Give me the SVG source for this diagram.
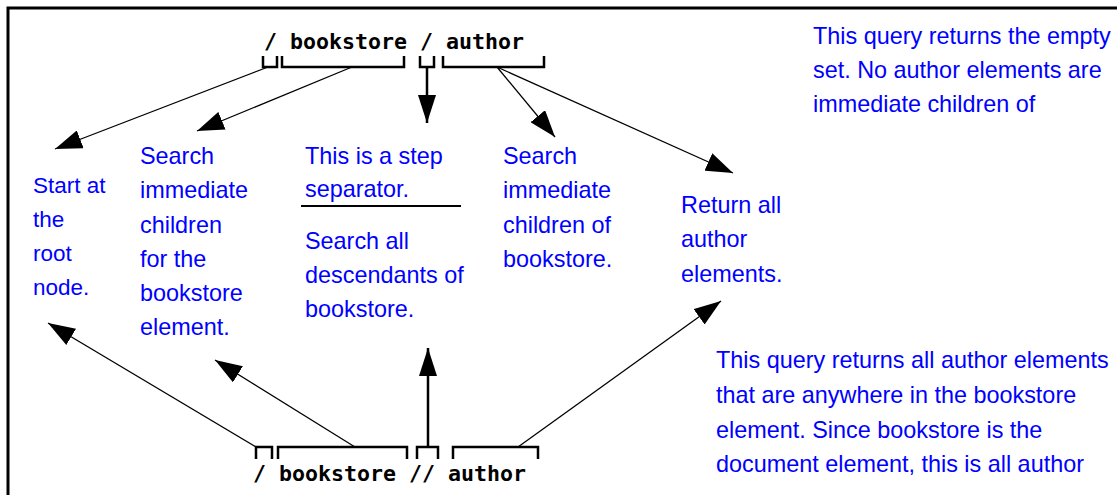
<svg xmlns="http://www.w3.org/2000/svg" width="1117" height="495" viewBox="0 0 1117 495">
<style>
.code{font-family:"DejaVu Sans Mono","Liberation Mono",monospace;font-weight:bold;font-size:21.6px;fill:#000}
.lbl{font-family:"Liberation Sans",Arial,sans-serif;font-size:23.4px;fill:#0000ff}
.sm{font-size:22.5px}
.br{fill:none;stroke:#000;stroke-width:2.5}
.thin{fill:none;stroke:#000;stroke-width:1.3}
.thick{fill:none;stroke:#000;stroke-width:2.5}
</style>
<defs>
<marker id="ah" markerUnits="userSpaceOnUse" markerWidth="27" markerHeight="19" viewBox="0 0 27 19" refX="27" refY="9.5" orient="auto">
<path d="M0,0 L27,9.5 L0,19 z" fill="#000"/>
</marker>
<marker id="ahv" markerUnits="userSpaceOnUse" markerWidth="28" markerHeight="18" viewBox="0 0 28 18" refX="28" refY="9" orient="auto">
<path d="M0,0 L28,9 L0,18 z" fill="#000"/>
</marker>
</defs>
<rect width="1117" height="495" fill="#fff"/>
<path d="M8,495 L8,8 L1117,8" fill="none" stroke="#000" stroke-width="3"/>

<g id="query-top">
<text class="code" x="264" y="49" xml:space="preserve">/ bookstore / author</text>
<path class="br" d="M263,56 V67 H277 V56 M282,56 V67 H404 V56 M420,56 V67 H434 V56 M443,56 V67 H544 V56"/>
</g>
<g id="query-bottom">
<text class="code" x="253" y="481" xml:space="preserve">/ bookstore // author</text>
<path class="br" d="M256,459 V447 H272 V459 M278,459 V447 H407 V459 M417,459 V447 H438 V459 M453,459 V447 H538 V459"/>
</g>

<g id="connectors">
<line class="thin" x1="268" y1="67" x2="55" y2="149" marker-end="url(#ah)"/>
<line class="thin" x1="352" y1="67" x2="197" y2="131" marker-end="url(#ah)"/>
<line class="thick" x1="427" y1="67" x2="427" y2="123" marker-end="url(#ahv)"/>
<line class="thin" x1="497" y1="67" x2="555" y2="137" marker-end="url(#ah)"/>
<line class="thin" x1="497" y1="67" x2="733" y2="173" marker-end="url(#ah)"/>
<line class="thin" x1="256" y1="447" x2="48" y2="323" marker-end="url(#ah)"/>
<line class="thin" x1="355" y1="447" x2="215" y2="360" marker-end="url(#ah)"/>
<line class="thick" x1="428" y1="447" x2="428" y2="348" marker-end="url(#ahv)"/>
<line class="thin" x1="518" y1="447" x2="721" y2="301" marker-end="url(#ah)"/>
</g>

<g id="root-node">
<text class="lbl sm" x="33" y="193">Start at</text>
<text class="lbl sm" x="33" y="227">the</text>
<text class="lbl sm" x="33" y="261">root</text>
<text class="lbl sm" x="33" y="295">node.</text>
</g>
<g id="search-children">
<text class="lbl" x="140" y="164">Search</text>
<text class="lbl" x="140" y="198">immediate</text>
<text class="lbl" x="140" y="233">children</text>
<text class="lbl" x="140" y="267">for the</text>
<text class="lbl" x="140" y="301">bookstore</text>
<text class="lbl" x="140" y="335">element.</text>
</g>
<g id="step-separator">
<text class="lbl" x="305" y="164">This is a step</text>
<text class="lbl" x="305" y="197">separator.</text>
<line x1="301" y1="206" x2="461" y2="206" stroke="#000" stroke-width="2"/>
<text class="lbl" x="305" y="249">Search all</text>
<text class="lbl" x="305" y="283">descendants of</text>
<text class="lbl" x="305" y="317">bookstore.</text>
</g>
<g id="search-children-bookstore">
<text class="lbl" x="503" y="164">Search</text>
<text class="lbl" x="503" y="198">immediate</text>
<text class="lbl" x="503" y="233">children of</text>
<text class="lbl" x="503" y="267">bookstore.</text>
</g>
<g id="return-author">
<text class="lbl" x="681" y="213">Return all</text>
<text class="lbl" x="681" y="247">author</text>
<text class="lbl" x="681" y="282">elements.</text>
</g>
<g id="note-top">
<text class="lbl" x="813" y="44">This query returns the empty</text>
<text class="lbl" x="813" y="78">set. No author elements are</text>
<text class="lbl" x="813" y="112">immediate children of</text>
</g>
<g id="note-bottom">
<text class="lbl" x="716" y="368">This query returns all author elements</text>
<text class="lbl" x="716" y="403">that are anywhere in the bookstore</text>
<text class="lbl" x="716" y="438">element. Since bookstore is the</text>
<text class="lbl" x="716" y="472">document element, this is all author</text>
</g>
</svg>
